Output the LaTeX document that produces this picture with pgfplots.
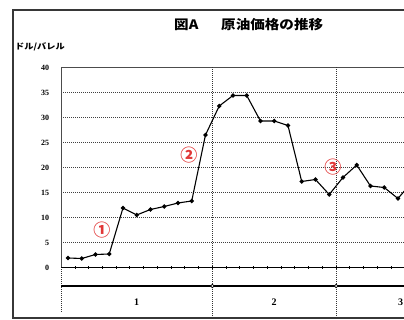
\documentclass[border=0pt]{standalone}
\usepackage{fontspec}
\setmainfont{Liberation Serif}
\newfontfamily\cjk{Noto Sans CJK JP}
\usepackage{pgfplots}
\pgfplotsset{compat=1.18}
\definecolor{circred}{RGB}{225,55,55}
\definecolor{framec}{RGB}{55,55,55}
\pgfplotstableread{
k v
0 1.9
1 1.8
2 2.6
3 2.7
4 11.9
5 10.5
6 11.6
7 12.2
8 12.9
9 13.3
10 26.5
11 32.3
12 34.4
13 34.4
14 29.3
15 29.3
16 28.4
17 17.2
18 17.6
19 14.6
20 18.0
21 20.5
22 16.3
23 16.0
24 13.8
25 17.0
}\oil
\begin{document}
\begin{tikzpicture}
\path[use as bounding box] (0pt,0pt) rectangle (404pt,320pt);
\begin{scope}
\clip (0pt,0pt) rectangle (404pt,320pt);
\draw[line width=1.6pt, framec] (410pt,310pt) -- (13pt,310pt) -- (13pt,2pt) -- (410pt,2pt);
\node[anchor=west, inner sep=0pt] at (174pt,295pt) {\scalebox{1.12}[1]{\cjk\bfseries\fontsize{13}{13}\selectfont 図A}};
\node[anchor=west, inner sep=0pt] at (221pt,295pt) {\scalebox{1.12}[1]{\cjk\bfseries\fontsize{13}{13}\selectfont 原油価格の推移}};
\node[anchor=west, inner sep=0pt] at (15pt,273pt) {\scalebox{1.15}[1]{\cjk\bfseries\fontsize{8}{8}\selectfont ドル/バレル}};
\begin{axis}[
  scale only axis, width=342.9pt, height=200pt,
  at={(61.1pt,52.5pt)}, anchor=south west,
  xmin=-0.5, xmax=24.44, ymin=0, ymax=40,
  axis line style={draw=none},
  xtick={0.5,1.5,...,24.5}, xticklabels={},
  xtick pos=bottom, tick align=center,
  major x tick style={black, line width=0.7pt},
  major tick length=2.5pt,
  ytick={0,5,...,40}, ytick style={draw=none},
  ymajorgrids,
  grid style={black!75, line width=0.8pt, dash pattern=on 0.9pt off 1.1pt},
  yticklabel style={font=\bfseries\fontsize{8}{8}\selectfont, inner sep=0pt, anchor=east, xshift=-10.5pt},
  /pgf/number format/assume math mode=true,
  clip=false,
]
\draw[black!70, line width=1.1pt] (axis cs:-0.5,0) -- (axis cs:-0.5,40) -- (axis cs:26,40);
\draw[black!80, line width=0.9pt, dash pattern=on 1pt off 1pt] (axis cs:10.5,-10.1) -- (axis cs:10.5,40);
\draw[black!80, line width=0.9pt, dash pattern=on 1pt off 1pt] (axis cs:19.5,-10.1) -- (axis cs:19.5,40);
\draw[black!80, line width=0.9pt, dash pattern=on 1pt off 1pt] (axis cs:-0.5,-8.9) -- (axis cs:-0.5,0);
\draw[black, line width=1.4pt] (axis cs:-0.5,0) -- (axis cs:26,0);
\draw[black, line width=1.5pt] (axis cs:-0.5,-3.7) -- (axis cs:26,-3.7);
\draw[black, fill=white, line width=0.7pt] (axis cs:10.5,-3.7) circle[radius=1.8pt];
\draw[black, fill=white, line width=0.7pt] (axis cs:19.5,-3.7) circle[radius=1.8pt];
\node[font=\bfseries\fontsize{10}{10}\selectfont] at (axis cs:5,-6.9) {1};
\node[font=\bfseries\fontsize{10}{10}\selectfont] at (axis cs:15,-6.9) {2};
\node[font=\bfseries\fontsize{10}{10}\selectfont] at (axis cs:24.2,-6.9) {3};
\addplot[black, line width=1.1pt, mark=*, mark size=1.6pt] table[x=k, y=v] {\oil};
\node[text=circred, font=\cjk\bfseries\fontsize{17}{17}\selectfont] at (axis cs:2.47,7.5) {①};
\node[text=circred, font=\cjk\bfseries\fontsize{17}{17}\selectfont] at (axis cs:8.8,22.5) {②};
\node[text=circred, font=\cjk\bfseries\fontsize{17}{17}\selectfont] at (axis cs:19.27,20.1) {③};
\end{axis}
\end{scope}
\end{tikzpicture}
\end{document}
